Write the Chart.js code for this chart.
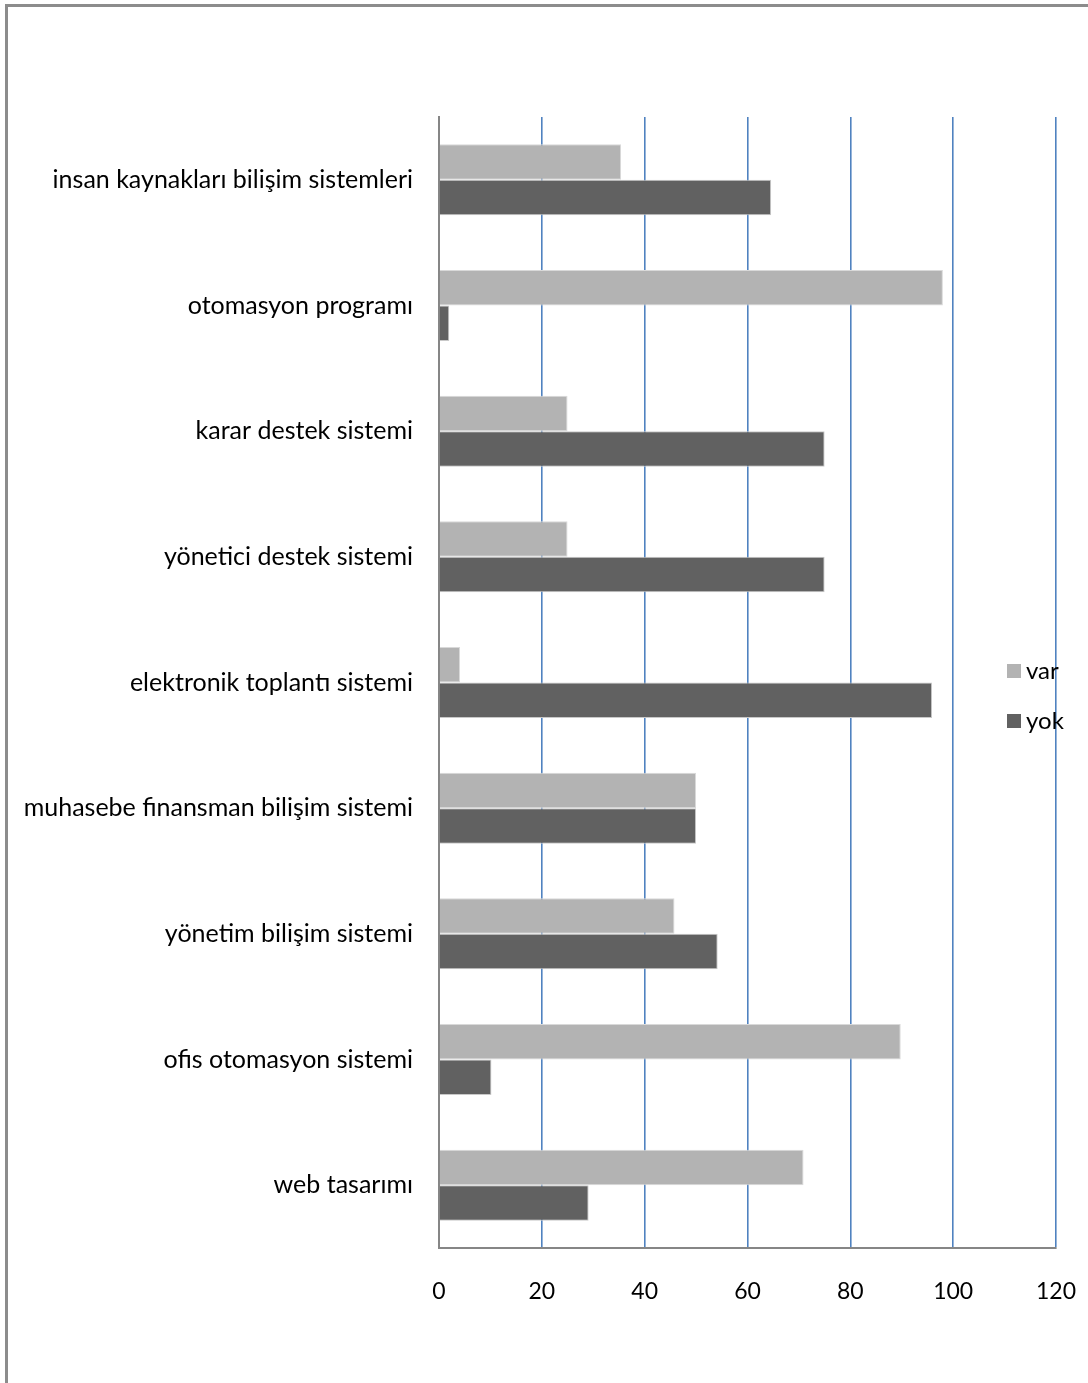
<!DOCTYPE html>
<html>
<head>
<meta charset="utf-8">
<script src="https://cdn.jsdelivr.net/npm/chart.js@4"></script>
<style>
  html, body { margin: 0; padding: 0; background: #fff; overflow: hidden; }
  #frame { position: absolute; left: 5px; top: 4px; width: 1300px; height: 1600px; border: 3px solid #8c8c8c; }
  #wrap { position: absolute; left: 0; top: 0; width: 1088px; height: 1383px; }
</style>
</head>
<body>
<div id="frame"></div>
<div id="wrap"><canvas id="chart" width="1088" height="1383"></canvas></div>
<script>
const categories = [
  "insan kaynakları bilişim sistemleri",
  "otomasyon programı",
  "karar destek sistemi",
  "yönetici destek sistemi",
  "elektronik toplantı sistemi",
  "muhasebe finansman bilişim sistemi",
  "yönetim bilişim sistemi",
  "ofis otomasyon sistemi",
  "web tasarımı"
];
const varValues = [35.4, 98, 25, 25, 4.1, 50, 45.8, 89.8, 70.9];
const yokValues = [64.6, 2, 75, 75, 95.9, 50, 54.2, 10.2, 29.1];
const seriesNames = ["var", "yok"];
const xTicks = [0, 20, 40, 60, 80, 100, 120];

const FONT = "Lato";

// legend drawn by hand so it can sit over the plot, like the original
const sideLegend = {
  id: "sideLegend",
  afterDraw(chart) {
    const ctx = chart.ctx;
    ctx.save();
    ctx.font = "24px " + FONT;
    ctx.textBaseline = "middle";
    chart.data.datasets.forEach((ds, i) => {
      const y = 671 + i * 50;
      ctx.fillStyle = ds.backgroundColor;
      ctx.fillRect(1007, y - 7, 14, 14);
      ctx.fillStyle = "#000";
      ctx.fillText(ds.label, 1026, y);
    });
    ctx.restore();
  }
};

new Chart(document.getElementById("chart"), {
  type: "bar",
  data: {
    labels: categories,
    datasets: [{
      label: seriesNames[0],
      data: varValues,
      backgroundColor: "#b3b3b3",
      borderColor: "#d9d9d9",
      borderWidth: 1
    }, {
      label: seriesNames[1],
      data: yokValues,
      backgroundColor: "#616161",
      borderColor: "#c8c8c8",
      borderWidth: 1
    }]
  },
  options: {
    indexAxis: "y",
    responsive: false,
    animation: false,
    categoryPercentage: 0.565,
    barPercentage: 1,
    layout: { padding: { left: 0, right: 32, top: 117, bottom: 0 } },
    plugins: {
      legend: { display: false },
      tooltip: { enabled: false }
    },
    scales: {
      x: {
        min: 0,
        max: 120,
        afterBuildTicks: (scale) => { scale.ticks = xTicks.map(v => ({ value: v })); },
        afterFit: (scale) => {
          scale.height = 135;
          // don't let the tick labels push the plot edges in
          scale.paddingLeft = 0;
          scale.paddingRight = 0;
        },
        grid: {
          color: (c) => c.tick && c.tick.value === 0 ? "rgba(0,0,0,0)" : "#4f82c0",
          lineWidth: 1.6,
          drawTicks: false
        },
        border: { display: true, color: "#868686", width: 2 },
        ticks: {
          padding: 30,
          color: "#000",
          font: { family: FONT, size: 23 }
        }
      },
      y: {
        afterFit: (scale) => { scale.width = 439; },
        grid: { display: false, drawTicks: false },
        border: { display: true, color: "#868686", width: 2 },
        ticks: {
          padding: 26,
          color: "#000",
          font: { family: FONT, size: 25 }
        }
      }
    }
  },
  plugins: [sideLegend]
});
</script>
</body>
</html>
